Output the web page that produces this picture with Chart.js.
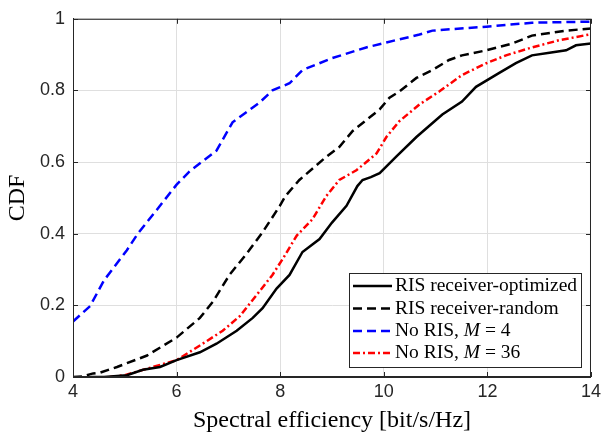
<!DOCTYPE html>
<html>
<head>
<meta charset="utf-8">
<script src="https://cdn.jsdelivr.net/npm/chart.js@4"></script>
<style>
html, body { margin: 0; padding: 0; background: #fff; }
#wrap { width: 605px; height: 434px; }
</style>
</head>
<body>
<div id="wrap"><canvas id="cdfChart"></canvas></div>
<script>
// CDF curves
const optX = [4.35, 4.6, 5.04, 5.35, 5.68, 6.0, 6.45, 6.77, 7.16, 7.47, 7.66, 7.93, 8.18, 8.43, 8.76, 9.0, 9.28, 9.49, 9.59, 9.75, 9.92, 10.24, 10.63, 11.13, 11.51, 11.78, 12.23, 12.55, 12.86, 13.2, 13.52, 13.71, 14.0];
const optY = [0, 0, 0.005, 0.02, 0.028, 0.047, 0.069, 0.093, 0.129, 0.165, 0.192, 0.247, 0.285, 0.349, 0.385, 0.431, 0.478, 0.533, 0.55, 0.558, 0.569, 0.615, 0.67, 0.733, 0.769, 0.81, 0.849, 0.876, 0.898, 0.905, 0.912, 0.926, 0.931];

const randX = [4.0, 4.2, 4.39, 4.52, 4.85, 5.43, 6.0, 6.45, 6.7, 7.02, 7.35, 7.66, 7.99, 8.1, 8.37, 8.89, 9.14, 9.4, 9.92, 10.11, 10.3, 10.63, 10.94, 11.26, 11.51, 11.98, 12.48, 12.86, 13.52, 14.0];
const randY = [0, 0.002, 0.01, 0.012, 0.028, 0.06, 0.11, 0.165, 0.21, 0.285, 0.344, 0.404, 0.477, 0.505, 0.55, 0.615, 0.642, 0.687, 0.747, 0.78, 0.797, 0.835, 0.857, 0.885, 0.898, 0.912, 0.931, 0.953, 0.967, 0.973];

const m4X = [4.0, 4.33, 4.6, 5.04, 5.25, 5.62, 6.0, 6.25, 6.77, 7.08, 7.6, 7.85, 8.18, 8.43, 9.0, 9.66, 10.05, 10.69, 10.94, 11.98, 12.86, 14.0];
const m4Y = [0.155, 0.198, 0.27, 0.354, 0.40, 0.467, 0.537, 0.574, 0.632, 0.711, 0.766, 0.80, 0.82, 0.857, 0.89, 0.92, 0.934, 0.956, 0.967, 0.978, 0.989, 0.992];

const m36X = [4.71, 5.0, 5.35, 6.0, 6.45, 6.89, 7.22, 7.6, 7.85, 8.05, 8.32, 8.62, 8.89, 9.14, 9.47, 9.86, 10.05, 10.3, 10.69, 11.07, 11.51, 11.98, 12.36, 12.86, 13.38, 14.0];
const m36Y = [0, 0.005, 0.02, 0.047, 0.088, 0.129, 0.17, 0.239, 0.285, 0.33, 0.395, 0.44, 0.505, 0.55, 0.577, 0.624, 0.67, 0.714, 0.761, 0.797, 0.843, 0.876, 0.898, 0.92, 0.94, 0.957];

const xTicks = [4, 6, 8, 10, 12, 14];
const yTicks = [0, 0.2, 0.4, 0.6, 0.8, 1];

const seriesNames = ['RIS receiver-optimized', 'RIS receiver-random', 'No RIS, M = 4', 'No RIS, M = 36'];

const axisColor = '#262626';
const gridColor = '#dfdfdf';
const tickFont = { family: '"Liberation Sans", Arial, sans-serif', size: 18 };
const serifFont = '"Liberation Serif", "DejaVu Serif", serif';

function toPoints(xs, ys) {
    return xs.map((x, i) => ({ x: x, y: ys[i] }));
}

function makeDataset(label, xs, ys, color, dash) {
    return {
        label: label,
        data: toPoints(xs, ys),
        borderColor: color,
        backgroundColor: color,
        borderWidth: 2.5,
        borderDash: dash,
        pointRadius: 0,
        showLine: true,
        fill: false,
        tension: 0
    };
}

const datasets = [
    makeDataset(seriesNames[0], optX, optY, '#000000', []),
    makeDataset(seriesNames[1], randX, randY, '#000000', [9, 5]),
    makeDataset(seriesNames[2], m4X, m4Y, '#0000ff', [9, 5]),
    makeDataset(seriesNames[3], m36X, m36Y, '#ff0000', [7, 3, 2, 3])
];

// box, inner tick marks and the legend inside the plot (MATLAB style)
const matlabFrame = {
    id: 'matlabFrame',
    afterDraw(chart) {
        const ctx = chart.ctx;
        const a = chart.chartArea;
        const xs = chart.scales.x;
        const ys = chart.scales.y;
        ctx.save();
        ctx.strokeStyle = axisColor;
        ctx.lineWidth = 1;
        ctx.setLineDash([]);
        ctx.strokeRect(a.left + 0.5, a.top + 0.5, a.right - a.left - 1, a.bottom - a.top - 1);
        const len = 5;
        ctx.beginPath();
        xTicks.forEach(v => {
            const px = Math.round(xs.getPixelForValue(v)) + 0.5;
            ctx.moveTo(px, a.bottom); ctx.lineTo(px, a.bottom - len);
            ctx.moveTo(px, a.top); ctx.lineTo(px, a.top + len);
        });
        yTicks.forEach(v => {
            const py = Math.round(ys.getPixelForValue(v)) + 0.5;
            ctx.moveTo(a.left, py); ctx.lineTo(a.left + len, py);
            ctx.moveTo(a.right, py); ctx.lineTo(a.right - len, py);
        });
        ctx.stroke();

        // legend
        const bx = 349.5, by = 273.5, bw = 232, bh = 94;
        ctx.fillStyle = '#ffffff';
        ctx.fillRect(bx, by, bw, bh);
        ctx.strokeStyle = axisColor;
        ctx.strokeRect(bx, by, bw, bh);
        const rowY = [286, 308.5, 331, 353];
        chart.data.datasets.forEach((ds, i) => {
            const y = rowY[i];
            ctx.strokeStyle = ds.borderColor;
            ctx.lineWidth = 2.5;
            ctx.setLineDash(ds.borderDash);
            ctx.beginPath();
            ctx.moveTo(353, y);
            ctx.lineTo(392, y);
            ctx.stroke();
            ctx.setLineDash([]);
            ctx.fillStyle = '#000000';
            ctx.textBaseline = 'middle';
            ctx.textAlign = 'left';
            const name = ds.label;
            const m = name.indexOf('M');
            let tx = 395;
            if (m < 0) {
                ctx.font = '19.5px ' + serifFont;
                ctx.fillText(name, tx, y);
            } else {
                const parts = [name.slice(0, m), 'M', name.slice(m + 1)];
                parts.forEach((p, k) => {
                    ctx.font = (k === 1 ? 'italic ' : '') + '19.5px ' + serifFont;
                    ctx.fillText(p, tx, y);
                    tx += ctx.measureText(p).width;
                });
            }
        });
        ctx.restore();
    }
};

new Chart(document.getElementById('cdfChart'), {
    type: 'scatter',
    data: { datasets: datasets },
    options: {
        responsive: true,
        maintainAspectRatio: false,
        animation: false,
        layout: { padding: { top: 13, right: 13, left: 0, bottom: 0 } },
        plugins: {
            legend: { display: false },
            tooltip: { enabled: false }
        },
        scales: {
            x: {
                type: 'linear',
                min: 4,
                max: 14,
                afterBuildTicks: scale => { scale.ticks = xTicks.map(v => ({ value: v })); },
                afterFit: scale => { scale.height = 57; },
                ticks: { font: tickFont, color: axisColor, padding: 4 },
                grid: { color: gridColor, drawTicks: false },
                border: { display: true, color: axisColor },
                title: {
                    display: true,
                    text: 'Spectral efficiency [bit/s/Hz]',
                    color: '#000000',
                    font: { family: serifFont, size: 24 },
                    padding: { top: 0, bottom: -1 }
                }
            },
            y: {
                min: 0,
                max: 1,
                afterBuildTicks: scale => { scale.ticks = yTicks.map(v => ({ value: v })); },
                afterFit: scale => { scale.width = 73; },
                ticks: {
                    font: tickFont,
                    color: axisColor,
                    padding: 8,
                    callback: value => String(Number(value.toFixed(1)))
                },
                grid: { color: gridColor, drawTicks: false },
                border: { display: true, color: axisColor },
                title: {
                    display: true,
                    text: 'CDF',
                    color: '#000000',
                    font: { family: serifFont, size: 24 },
                    padding: { top: 3, bottom: 0 }
                }
            }
        }
    },
    plugins: [matlabFrame]
});
</script>
</body>
</html>
